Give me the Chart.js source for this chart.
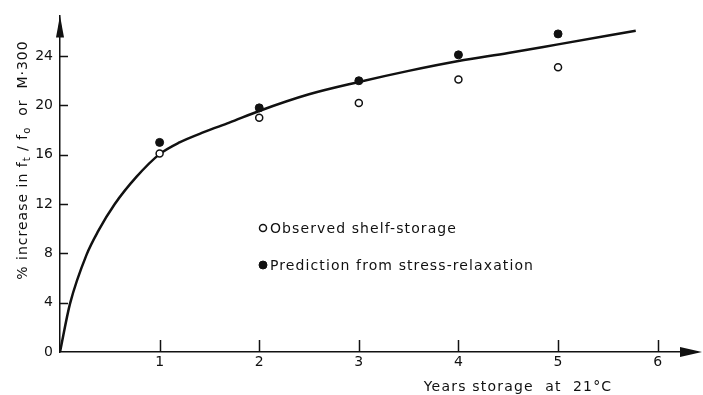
<!DOCTYPE html>
<html>
<head>
<meta charset="utf-8">
<script src="https://cdn.jsdelivr.net/npm/chart.js@4/dist/chart.umd.min.js"></script>
<style>
  html, body { margin: 0; padding: 0; background: #fff; }
  #wrap { width: 703px; height: 395px; }
</style>
</head>
<body>
<div id="wrap"><canvas id="c" width="703" height="395"></canvas></div>
<script>
// Storage years at which measurements were taken
const years = [1, 2, 3, 4, 5];
// % increase observed during shelf storage
const observedPct = [16.1, 19.0, 20.2, 22.1, 23.1];
// % increase predicted from stress-relaxation
const predictedPct = [17.0, 19.8, 22.0, 24.1, 25.8];
// Smooth trend curve through the results
const curveYears = [0, 0.1, 0.267, 0.383, 0.55, 0.767, 1.0, 1.2, 1.45, 1.7, 2.0, 2.5, 3.0, 3.5, 4.0, 4.5, 5.0, 5.78];
const curvePct   = [0, 3.9, 7.9, 9.8, 12.0, 14.2, 16.05, 17.0, 17.85, 18.6, 19.55, 20.9, 21.9, 22.8, 23.6, 24.25, 24.95, 26.05];
// Axis tick values
const xTickValues = [1, 2, 3, 4, 5, 6];
const yTickValues = [0, 4, 8, 12, 16, 20, 24];

const legendLabels = ['Observed shelf-storage', 'Prediction from stress-relaxation'];
const xTitle = 'Years storage  at  21°C';

const INK = '#111';
const FONT = '"DejaVu Sans", sans-serif';

const pts = (xs, ys) => xs.map((x, i) => ({ x, y: ys[i] }));

// Arrow heads, inward tick marks, axis titles and the in-plot key
const decorations = {
  id: 'decorations',
  afterDraw(chart) {
    const { ctx, chartArea } = chart;
    const xs = chart.scales.x, ys = chart.scales.y;
    const x0 = xs.getPixelForValue(0), y0 = ys.getPixelForValue(0);
    ctx.save();
    ctx.strokeStyle = INK;
    ctx.fillStyle = INK;
    ctx.lineWidth = 1.5;

    // tick marks pointing into the plot
    ctx.beginPath();
    yTickValues.filter(v => v > 0).forEach(v => {
      const y = Math.round(ys.getPixelForValue(v)) + 0.5;
      ctx.moveTo(x0, y); ctx.lineTo(x0 + 8, y);
    });
    xTickValues.forEach(v => {
      const x = Math.round(xs.getPixelForValue(v)) + 0.5;
      ctx.moveTo(x, y0); ctx.lineTo(x, y0 - 12);
    });
    ctx.stroke();

    // arrow heads
    ctx.beginPath();
    ctx.moveTo(x0, chartArea.top);
    ctx.lineTo(x0 - 4, chartArea.top + 22);
    ctx.lineTo(x0 + 4, chartArea.top + 22);
    ctx.closePath();
    ctx.fill();
    ctx.beginPath();
    ctx.moveTo(702, y0);
    ctx.lineTo(680, y0 - 5);
    ctx.lineTo(680, y0 + 5);
    ctx.closePath();
    ctx.fill();

    // x-axis title
    ctx.font = '14px ' + FONT;
    ctx.letterSpacing = '1.2px';
    ctx.textAlign = 'center';
    ctx.textBaseline = 'middle';
    ctx.fillText(xTitle, 518, 387);

    // y-axis title with subscripts
    const main = '14px ' + FONT, sub = '10px ' + FONT;
    const pieces = [
      { t: '% increase in f', s: false },
      { t: 't', s: true },
      { t: ' / f', s: false },
      { t: 'o', s: true },
      { t: '  or  M·300', s: false }
    ];
    ctx.letterSpacing = '1px';
    let total = 0;
    pieces.forEach(p => { ctx.font = p.s ? sub : main; p.w = ctx.measureText(p.t).width; total += p.w; });
    ctx.save();
    ctx.translate(22, 160);
    ctx.rotate(-Math.PI / 2);
    ctx.textAlign = 'left';
    ctx.textBaseline = 'alphabetic';
    let px = -total / 2;
    pieces.forEach(p => {
      ctx.font = p.s ? sub : main;
      ctx.fillText(p.t, px, p.s ? 8 : 5);
      px += p.w;
    });
    ctx.restore();

    // key
    const keyRows = [
      { ds: chart.data.datasets[0], y: 228 },
      { ds: chart.data.datasets[1], y: 265 }
    ];
    ctx.font = '14px ' + FONT;
    ctx.letterSpacing = '1.1px';
    ctx.textAlign = 'left';
    ctx.textBaseline = 'middle';
    keyRows.forEach(r => {
      ctx.beginPath();
      ctx.arc(263, r.y, r.ds.pointRadius, 0, Math.PI * 2);
      ctx.fillStyle = r.ds.pointBackgroundColor;
      ctx.fill();
      ctx.lineWidth = r.ds.pointBorderWidth;
      ctx.strokeStyle = r.ds.pointBorderColor;
      ctx.stroke();
      ctx.fillStyle = INK;
      ctx.fillText(r.ds.label, 270, r.y + 1);
    });
    ctx.restore();
  }
};

new Chart(document.getElementById('c'), {
  type: 'scatter',
  data: {
    datasets: [
      {
        label: legendLabels[0],
        data: pts(years, observedPct),
        showLine: false,
        pointRadius: 3.5,
        pointBackgroundColor: '#fff',
        pointBorderColor: INK,
        pointBorderWidth: 1.5,
        order: 1
      },
      {
        label: legendLabels[1],
        data: pts(years, predictedPct),
        showLine: false,
        pointRadius: 4,
        pointBackgroundColor: INK,
        pointBorderColor: INK,
        pointBorderWidth: 1,
        order: 2
      },
      {
        label: 'Trend',
        data: pts(curveYears, curvePct),
        showLine: true,
        borderColor: INK,
        borderWidth: 2.5,
        pointRadius: 0,
        cubicInterpolationMode: 'monotone',
        order: 3
      }
    ]
  },
  options: {
    responsive: false,
    animation: false,
    devicePixelRatio: 1,
    layout: { padding: { top: 12, right: 3, left: 0, bottom: 0 } },
    plugins: { legend: { display: false }, tooltip: { enabled: false } },
    scales: {
      x: {
        type: 'linear',
        min: 0,
        max: 6.4,
        grid: { display: false, drawTicks: false },
        border: { display: true, color: INK, width: 1.5 },
        afterFit: s => { s.height = 43; },
        afterBuildTicks: s => { s.ticks = xTickValues.map(v => ({ value: v })); },
        ticks: { color: INK, font: { family: FONT, size: 14 }, padding: 2, maxRotation: 0, autoSkip: false }
      },
      y: {
        type: 'linear',
        min: 0,
        max: 27.3,
        grid: { display: false, drawTicks: false },
        border: { display: true, color: INK, width: 1.5 },
        afterFit: s => { s.width = 60; },
        afterBuildTicks: s => { s.ticks = yTickValues.map(v => ({ value: v })); },
        ticks: { color: INK, font: { family: FONT, size: 14 }, padding: 7, autoSkip: false }
      }
    }
  },
  plugins: [decorations]
});
</script>
</body>
</html>
